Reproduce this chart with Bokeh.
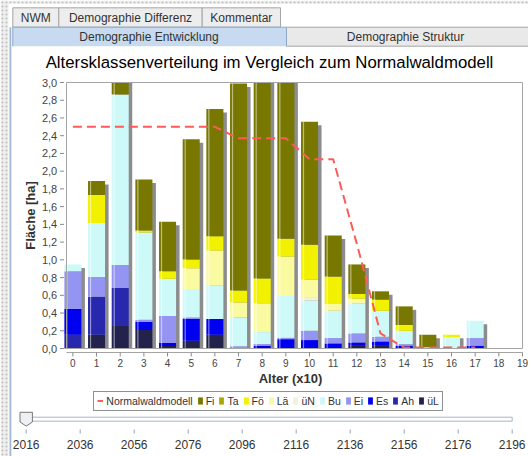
import numpy as np
from bokeh.plotting import figure
from bokeh.models import Range1d, Legend, LegendItem
from bokeh.embed import file_html
from bokeh.resources import INLINE
from bokeh.core.properties import value

FONT = "Liberation Sans"

# ---------------- data ----------------
ages = [0, 1, 2, 3, 4, 5, 6, 7, 8, 9, 10, 11, 12, 13, 14, 15, 16, 17, 18, 19]
fi  = [0, 0.16, 0.25, 0.574, 0.559, 1.355, 1.433, 2.335, 2.4, 1.9, 1.387, 0.464, 0.333, 0.094, 0.21, 0.14, 0, 0, 0, 0]
ta  = [0, 0, 0, 0, 0, 0, 0, 0, 0, 0, 0, 0, 0, 0, 0, 0, 0, 0, 0, 0]
foe = [0, 0.315, 0, 0.022, 0.083, 0.10, 0.162, 0.133, 0.28, 0.2, 0.393, 0.309, 0.053, 0.125, 0.065, 0, 0.03, 0, 0, 0]
lae = [0, 0, 0, 0, 0, 0.233, 0.396, 0.169, 0.325, 0.445, 0.197, 0.076, 0.057, 0, 0, 0, 0, 0, 0, 0]
uen = [0, 0, 0, 0, 0, 0, 0, 0, 0, 0, 0.04, 0, 0, 0, 0, 0, 0, 0, 0, 0]
bu  = [0.077, 0.61, 1.923, 0.984, 0.422, 0.321, 0.376, 0.326, 0.135, 0.472, 0.34, 0.308, 0.335, 0.294, 0.151, 0.015, 0.125, 0.195, 0, 0]
ei  = [0.425, 0.22, 0.26, 0.027, 0.305, 0.018, 0, 0.025, 0.02, 0.015, 0.105, 0.061, 0.102, 0.053, 0.019, 0, 0, 0.088, 0, 0]
es  = [0.29, 0, 0, 0.09, 0.034, 0.246, 0.178, 0, 0.03, 0.105, 0.095, 0.057, 0.038, 0.049, 0.03, 0, 0, 0.03, 0, 0]
ah  = [0.155, 0.43, 0.43, 0, 0, 0, 0, 0, 0, 0, 0, 0, 0, 0, 0, 0, 0, 0, 0, 0]
uel = [0, 0.155, 0.253, 0.208, 0.027, 0.087, 0.155, 0, 0, 0, 0, 0, 0.03, 0.03, 0, 0, 0, 0, 0, 0]

nwm_ages = [0, 1, 2, 3, 4, 5, 6, 7, 8, 9, 10, 11, 12, 13, 14, 15, 16, 17]
nwm      = [2.5, 2.5, 2.5, 2.5, 2.5, 2.5, 2.5, 2.37, 2.37, 2.37, 2.135, 2.135, 1.18, 0.17, 0.01, 0.01, 0.01, 0.01]

species   = ["Fi", "Ta", "Fö", "Lä", "üN", "Bu", "Ei", "Es", "Ah", "üL"]
series    = [fi, ta, foe, lae, uen, bu, ei, es, ah, uel]
sp_colors = ["#787800", "#a8a800", "#f2f200", "#fafaa0", "#f2f2da",
             "#cdf9f9", "#9494f2", "#0000f0", "#2828ae", "#22224c"]
y_ticks   = [0.0, 0.2, 0.4, 0.6, 0.8, 1.0, 1.2, 1.4, 1.6, 1.8, 2.0, 2.2, 2.4, 2.6, 2.8, 3.0]
AGE_LIM   = (-0.27, 19.0)
HA_LIM    = (0.0, 3.0)

years        = [2016, 2036, 2056, 2076, 2096, 2116, 2136, 2156, 2176, 2196]
current_year = 2016

title_text  = "Altersklassenverteilung im Vergleich zum Normalwaldmodell"
x_label     = "Alter (x10)"
y_label     = "Fläche [ha]"
nwm_label   = "Normalwaldmodell"
tabs_top    = ["NWM", "Demographie Differenz", "Kommentar"]
tabs_bottom = ["Demographie Entwicklung", "Demographie Struktur"]

# ---------------- layout (pixels of the page) ----------------
W, H = 528, 456
PLOT_L, PLOT_R, PLOT_T, PLOT_B = 66.0, 522.0, 82.0, 348.0
YEAR_L, YEAR_R = 25.7, 511.7
TEXT_COL = "#333333"
NWM_COL = "#ff5a5a"
BOX_COL = "#a4a4a4"

KX = (PLOT_R - PLOT_L) / (AGE_LIM[1] - AGE_LIM[0])
KY = (PLOT_B - PLOT_T) / (HA_LIM[1] - HA_LIM[0])
KYR = (YEAR_R - YEAR_L) / (years[-1] - years[0])

p = figure(width=W, height=H, x_range=Range1d(0, W), y_range=Range1d(H, 0),
           output_backend="svg", toolbar_location=None,
           x_axis_location=None, y_axis_location=None,
           min_border_left=0, min_border_right=0, min_border_top=0, min_border_bottom=0)
p.xgrid.visible = False
p.ygrid.visible = False
p.outline_line_color = None
p.background_fill_color = "white"
p.border_fill_color = "white"

p.extra_x_ranges = {
    "age": Range1d(AGE_LIM[0] - PLOT_L / KX, AGE_LIM[1] + (W - PLOT_R) / KX),
    "years": Range1d(years[0] - YEAR_L / KYR, years[-1] + (W - YEAR_R) / KYR),
}
p.extra_y_ranges = {
    "ha": Range1d(HA_LIM[0] - (H - PLOT_B) / KY, HA_LIM[1] + PLOT_T / KY),
}
CH = dict(x_range_name="age", y_range_name="ha")

# ---------------- window chrome ----------------
p.quad(left=[0], right=[8], top=[0], bottom=[H], fill_color="#eeeeee", line_color=None,
       hatch_pattern="dot", hatch_color="#bdbdbd", hatch_scale=4)
p.quad(left=[0], right=[W], top=[0], bottom=[3.3], fill_color="#eeeeee", line_color=None,
       hatch_pattern="dot", hatch_color="#bdbdbd", hatch_scale=4)
p.quad(left=[9], right=[10.8], top=[26.7], bottom=[H], fill_color="#9fb6d4", line_color=None)

top_edges = [12.3, 58.3, 201.7, 280.0]
p.quad(left=top_edges[:-1], right=top_edges[1:], top=[7.3] * 3, bottom=[26.7] * 3,
       fill_color="#ededed", line_color="#a6a6a6")
p.quad(left=[286.0], right=[W + 5], top=[26.7], bottom=[45.7],
       fill_color="#e9e9e9", line_color="#a6a6a6")
p.quad(left=[12.3], right=[286.0], top=[26.7], bottom=[45.7], fill_color="#c7daef", line_color=None)
p.line(x=[12.3, 12.3, 286.0, 286.0], y=[45.7, 26.7, 26.7, 45.7], line_color="#8ea7c6", line_width=1)
p.text(x=[(a + b) / 2 for a, b in zip(top_edges[:-1], top_edges[1:])], y=[17.3] * 3, text=tabs_top,
       text_font=value(FONT), text_font_size="12px", text_color=TEXT_COL,
       text_align="center", text_baseline="middle")
p.text(x=[148.5, 405.0], y=[36.5] * 2, text=tabs_bottom,
       text_font=value(FONT), text_font_size="12px", text_color=TEXT_COL,
       text_align="center", text_baseline="middle")

# ---------------- chart ----------------
p.text(x=[269.0], y=[61.7], text=[title_text], text_font=value(FONT), text_font_size="16.8px",
       text_color="black", text_align="center", text_baseline="middle")

BAR_W = 0.72
SH_DX, SH_DY = 3.5 / KX, 3.5 / KY
totals = np.sum(np.array(series), axis=0)

p.vbar(x=np.array(ages) + SH_DX, bottom=HA_LIM[0],
       top=np.clip(totals - SH_DY, HA_LIM[0], HA_LIM[1]), width=BAR_W,
       fill_color="#8c8c8c", line_color=None, **CH)

renderers = {}
cum = np.zeros(len(ages))
for s, v, c in list(zip(species, series, sp_colors))[::-1]:
    v = np.array(v, dtype=float)
    b = np.minimum(cum, HA_LIM[1])
    t = np.minimum(cum + v, HA_LIM[1])
    cum = cum + v
    renderers[s] = p.vbar(x=ages, bottom=b, top=t, width=BAR_W,
                          fill_color=c, line_color=None, **CH)

p.vbar(x=np.array(ages) - BAR_W / 2 + 2.5 / KX, bottom=HA_LIM[0],
       top=np.minimum(totals, HA_LIM[1]), width=1.2 / KX,
       fill_color="white", fill_alpha=0.5, line_color=None, **CH)

p.line(nwm_ages, nwm, line_color=NWM_COL, line_width=2, line_dash="9 5", **CH)
# solid stand-in used only for the legend swatch (lies outside the visible ranges)
nwm_key = p.line([AGE_LIM[0] - 50, AGE_LIM[0] - 49], [HA_LIM[0] - 50, HA_LIM[0] - 50],
                 line_color=NWM_COL, line_width=2, **CH)

# plot box
p.quad(left=[AGE_LIM[0]], right=[AGE_LIM[1]], bottom=[HA_LIM[0]], top=[HA_LIM[1]],
       fill_color=None, line_color=BOX_COL, **CH)

# x axis (offset 4 px below the box)
x_ax_y = HA_LIM[0] - 4 / KY
p.segment(x0=[AGE_LIM[0]], y0=[x_ax_y], x1=[AGE_LIM[1]], y1=[x_ax_y], line_color=BOX_COL, **CH)
p.segment(x0=ages, y0=[x_ax_y] * len(ages), x1=ages, y1=[x_ax_y - 4 / KY] * len(ages),
          line_color="#8a8a8a", **CH)
p.text(x=ages, y=[HA_LIM[0] - 14 / KY] * len(ages), text=[str(a) for a in ages],
       text_font=value(FONT), text_font_size="10px", text_color="#444444",
       text_align="center", text_baseline="middle", **CH)

# y axis
p.segment(x0=[AGE_LIM[0] - 6.5 / KX] * len(y_ticks), y0=y_ticks,
          x1=[AGE_LIM[0] - 2.5 / KX] * len(y_ticks), y1=y_ticks, line_color="#8a8a8a", **CH)
p.text(x=[AGE_LIM[0] - 9.3 / KX] * len(y_ticks), y=y_ticks,
       text=[f"{t:.1f}".replace(".", ",") for t in y_ticks],
       text_font=value(FONT), text_font_size="11px", text_color="#444444",
       text_align="right", text_baseline="middle", **CH)

p.text(x=[290.0], y=[378.3], text=[x_label], text_font=value(FONT), text_font_size="13px",
       text_font_style="bold", text_color=TEXT_COL, text_align="center", text_baseline="middle")
p.text(x=[29.5], y=[(PLOT_T + PLOT_B) / 2], text=[y_label], angle=np.pi / 2,
       text_font=value(FONT), text_font_size="13px", text_font_style="bold",
       text_color=TEXT_COL, text_align="center", text_baseline="middle")

# ---------------- legend ----------------
items = [LegendItem(label=nwm_label, renderers=[nwm_key])]
for s in species:
    items.append(LegendItem(label=s, renderers=[renderers[s]]))
leg = Legend(items=items, orientation="horizontal", location=(93.3, H - 410.5),
             border_line_color="#222222", border_line_width=1,
             background_fill_color="white", background_fill_alpha=1,
             padding=3, margin=0, spacing=4, label_standoff=3,
             glyph_width=6, glyph_height=9, label_width=0, label_height=12,
             label_text_font=FONT, label_text_font_size="10.5px", label_text_color=TEXT_COL)
p.add_layout(leg)

# ---------------- year slider ----------------
YR = dict(x_range_name="years")
p.quad(left=[years[0]], right=[years[-1]], top=[416.7], bottom=[420.7],
       fill_color="white", line_color="#a3b5c9", **YR)
p.segment(x0=years, y0=[429.0] * len(years), x1=years, y1=[433.0] * len(years),
          line_color="#8ea2b8", **YR)
p.text(x=years, y=[443.5] * len(years), text=[str(y) for y in years],
       text_font=value(FONT), text_font_size="12px", text_color=TEXT_COL,
       text_align="center", text_baseline="middle", **YR)
hw = 6.2 / KYR
cy = current_year
p.patch(x=[cy - hw, cy + hw, cy + hw, cy, cy - hw],
        y=[411.8, 411.8, 421.5, 425.6, 421.5],
        fill_color="#eef0f3", line_color="#777777", line_width=1, **YR)

open("out.html", "w").write(file_html(p, INLINE))
